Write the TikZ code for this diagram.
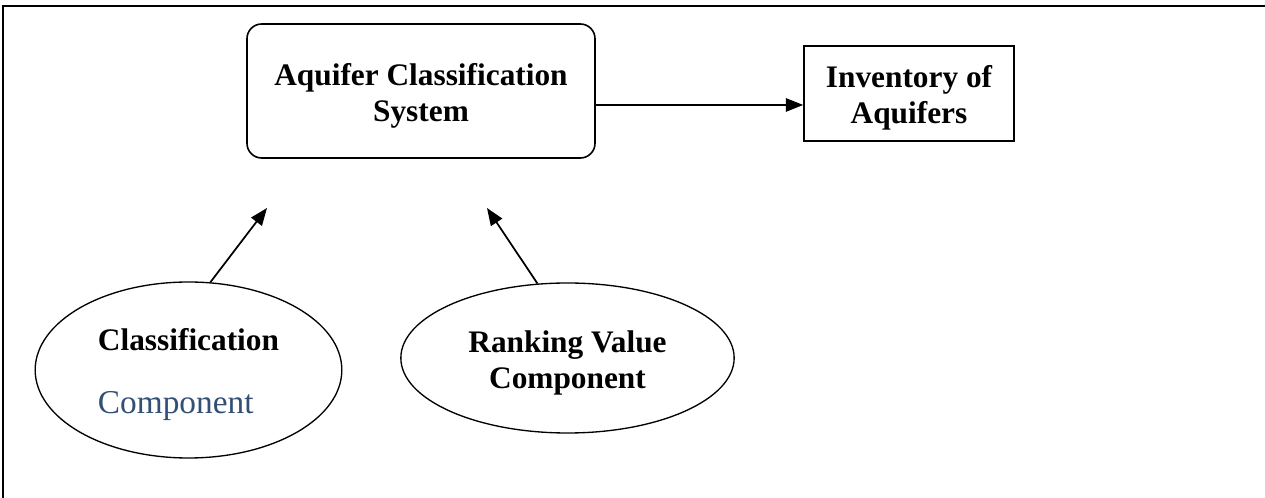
\documentclass[tikz,border=0pt]{standalone}
\usepackage{fontspec}
\setmainfont{Liberation Serif}
\usepackage{xcolor}
\usepackage{tikz}
\usetikzlibrary{shapes.geometric, arrows.meta, positioning}
\definecolor{compblue}{RGB}{50,80,118}
% taller first line, pushes the text block a little down in its shape
\newcommand{\topstrut}{\rule{0pt}{23.5pt}}

\begin{document}
\begin{tikzpicture}[x=0.75pt, y=-0.75pt,
  boldtext/.style={font=\fontsize{23.5}{27}\selectfont\bfseries},
  sysbox/.style={draw, line width=1.2pt, rounded corners=11pt, align=center, boldtext},
  invbox/.style={draw, line width=1.2pt, align=center, boldtext},
  compellipse/.style={draw, ellipse, line width=1pt, inner sep=0pt, boldtext},
  link/.style={line width=1.3pt, -{Triangle[length=13pt, width=10pt]}}]
\useasboundingbox (0,0) rectangle (1265,498);

% frame (top and left only)
\draw[line width=1.5pt] (3,499) -- (3,6) -- (1266,6);

% top row
\node[sysbox, minimum width=261pt, minimum height=100.5pt] (sys) at (421,91)
  {\topstrut Aquifer Classification\\System};
\node[invbox, minimum width=157.5pt, minimum height=71.25pt] (inv) at (909,93.5)
  {\topstrut Inventory of\\Aquifers};
\draw[link] (sys.east |- 0,105) -- (inv.west |- 0,105);

% components
\node[compellipse, align=left, minimum width=230pt, minimum height=132pt] (cls) at (188.5,370)
  {\topstrut Classification\\[20pt]{\fontsize{25}{30}\selectfont\mdseries\color{compblue}Component}};
\node[compellipse, align=center, minimum width=250pt, minimum height=112.5pt] (rank) at (567.5,358)
  {\topstrut Ranking Value\\Component};

% arrows from the components
\coordinate (clsTip) at (267,208);
\coordinate (rankTip) at (487,208);
\draw[link] (cls.76) -- (clsTip);
\draw[link] (rank.112) -- (rankTip);

\end{tikzpicture}
\end{document}
